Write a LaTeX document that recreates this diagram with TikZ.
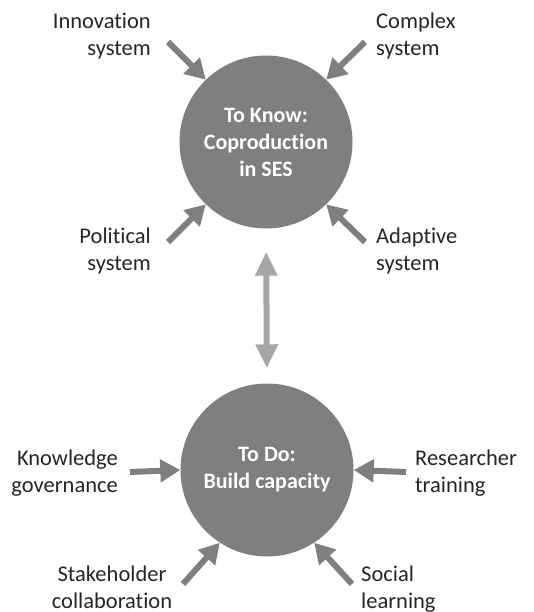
\documentclass[tikz,border=0pt]{standalone}
\usepackage{fontspec}
\setmainfont{Carlito}[Ligatures=NoCommon]
\usetikzlibrary{arrows.meta}
\definecolor{dk}{HTML}{7F7F7F}
\definecolor{lt}{HTML}{A6A6A6}
\begin{document}
\begin{tikzpicture}[x=1pt,y=-1pt,
  hub/.style={circle,fill=dk,text=white,minimum size=173pt,inner sep=0pt,
    align=center,font=\bfseries\fontsize{22}{27}\selectfont},
  lab/.style={inner sep=0pt,font=\fontsize{22.5}{27}\selectfont,text=black!85},
  inarrow/.style={draw=dk,line width=6pt,-{Triangle[length=20pt,width=22pt]}},
  link/.style={draw=lt,line width=6pt,{Triangle[length=24pt,width=21pt]}-{Triangle[length=24pt,width=21pt]}}]
\useasboundingbox[fill=white] (0,0) rectangle (534,612);
\node[hub] (know) at (266,142) {To Know:\\Coproduction\\in SES};
\node[hub] (do) at (267,470) {To Do:\\Build capacity};

\node[lab,anchor=north east,align=right] (l1) at (151,13) {Innovation\\system};
\node[lab,anchor=north west,align=left] (l2) at (376,13) {Complex\\system};
\node[lab,anchor=north east,align=right] (l3) at (151,228) {Political\\system};
\node[lab,anchor=north west,align=left] (l4) at (376,228) {Adaptive\\system};
\node[lab,anchor=north east,align=right] (l5) at (118,450) {Knowledge\\governance};
\node[lab,anchor=north west,align=left] (l6) at (415,450) {Researcher\\training};
\node[lab,anchor=north,align=center] (l7) at (112,566) {Stakeholder\\collaboration};
\node[lab,anchor=north west,align=left] (l8) at (361,566) {Social\\learning};

\coordinate (t1) at (168,42);
\coordinate (t2) at (365,42);
\coordinate (t3) at (168,242);
\coordinate (t4) at (365,242);
\coordinate (t5) at (130,472);
\coordinate (t6) at (406,472);
\coordinate (t7) at (183,584);
\coordinate (t8) at (352,584);

\draw[inarrow] (t1) -- (know.134);
\draw[inarrow] (t2) -- (know.46);
\draw[inarrow] (t3) -- (know.226);
\draw[inarrow] (t4) -- (know.314);
\draw[inarrow] (t5) -- (do.180);
\draw[inarrow] (t6) -- (do.0);
\draw[inarrow] (t7) -- (do.237);
\draw[inarrow] (t8) -- (do.303);

\draw[link,shorten <=23pt,shorten >=15pt] (know.south) -- (do.north);
\end{tikzpicture}
\end{document}
